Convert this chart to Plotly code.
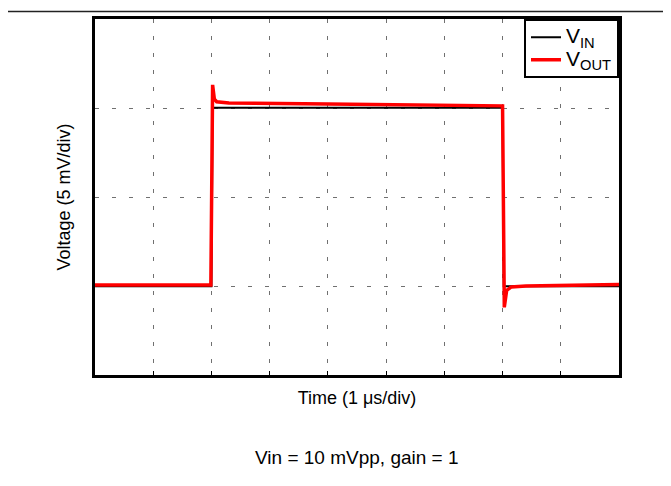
import plotly.graph_objects as go

# time in µs, voltage in mV (5 mV/div, 1 µs/div)
t_in = [0, 2.0, 2.02, 7.0, 7.02, 9.0]
v_in = [4.98, 4.98, 15.02, 15.02, 4.98, 4.98]

t_out = [0, 1.99, 2.02, 2.05, 2.09, 2.3, 4.0, 6.98, 7.0, 7.03, 7.07, 7.15, 7.4, 9.0]
v_out = [5.05, 5.05, 16.3, 15.5, 15.35, 15.28, 15.22, 15.15, 15.12, 3.8, 4.75, 4.95, 5.0, 5.08]

names = ['V<sub>IN</sub>', 'V<sub>OUT</sub>']

fig = go.Figure()
fig.add_trace(go.Scatter(x=t_in, y=v_in, mode='lines',
                         name=f'<span style="font-size:21px">{names[0]}</span>',
                         line=dict(color='black', width=2)))
fig.add_trace(go.Scatter(x=t_out, y=v_out, mode='lines',
                         name=f'<span style="font-size:21px">{names[1]}</span>',
                         line=dict(color='#ff0000', width=3.5)))

grid = dict(showgrid=True, gridcolor='#707070', gridwidth=1, griddash='4px,13px',
            showline=True, linecolor='black', linewidth=3, mirror=True,
            zeroline=False, showticklabels=False)

fig.update_xaxes(range=[0, 9], dtick=1, ticks='inside', ticklen=4, tickcolor='black',
                 title=dict(text='Time (1 μs/div)', font=dict(size=18), standoff=15), **grid)
fig.update_yaxes(range=[0, 20], dtick=5, ticks='',
                 title=dict(text='Voltage (5 mV/div)', font=dict(size=18), standoff=17), **grid)

fig.add_annotation(text='Vin = 10 mVpp, gain = 1', xref='paper', yref='paper',
                   x=0.5, y=-0.231, showarrow=False, font=dict(size=19, color='black'),
                   yanchor='middle')

# rule line across the top of the page
fig.add_shape(type='line', xref='paper', yref='paper',
              x0=-0.4, x1=1.4, y0=1.021, y1=1.021,
              line=dict(color='#222222', width=1.5))

fig.update_layout(
    width=671, height=486,
    margin=dict(l=87, r=60, t=8, b=119),
    plot_bgcolor='white', paper_bgcolor='white',
    font=dict(family='Liberation Sans, Arial', color='black', size=18),
    showlegend=True,
    legend=dict(x=1, y=1, xanchor='right', yanchor='top', bgcolor='white',
                bordercolor='black', borderwidth=2, font=dict(size=15),
                tracegroupgap=0, itemwidth=30),
)

fig.write_html("out.html")
